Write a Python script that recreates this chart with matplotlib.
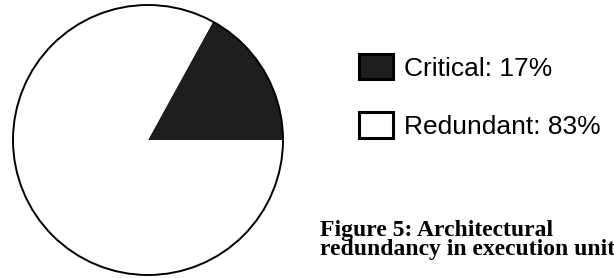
import matplotlib
matplotlib.use("Agg")
import matplotlib.pyplot as plt
from matplotlib.patches import Patch, Circle

labels = ["Critical", "Redundant"]
shares = [17, 83]
colors = ["#1e1e1e", "white"]
caption = "Figure 5: Architectural\nredundancy in execution units"

fig = plt.figure(figsize=(6.14, 2.78), dpi=100)
ax = fig.add_axes([0, 0, 1, 1])

cx, cy, r = 148, 138, 135
wedges, _ = ax.pie(shares, colors=colors, startangle=0, counterclock=True,
                   center=(cx, cy), radius=r, frame=True,
                   wedgeprops=dict(edgecolor="none"))
ax.set_xlim(0, 614)
ax.set_ylim(0, 278)
ax.set_aspect("equal")
ax.axis("off")
ax.add_patch(Circle((cx, cy), r, fill=False, edgecolor="black", lw=1.4))

# legend: squares with black border
handles = [Patch(facecolor=c, edgecolor="black", lw=2.2) for c in colors]
leg_labels = [f"{l}: {s}%" for l, s in zip(labels, shares)]
ax.legend(handles, leg_labels, loc="upper left", bbox_to_anchor=(359, 224),
          bbox_transform=ax.transData, frameon=False,
          prop={"family": "Liberation Sans", "size": 19},
          handlelength=1.28, handleheight=1.1, handletextpad=0.42,
          labelspacing=1.2, borderpad=0, borderaxespad=0)

# caption runs off the right edge, as in the original
fig.text(320 / 614, (278 - 255) / 278, caption, family="Liberation Serif",
         weight="bold", fontsize=17, va="baseline", ha="left",
         linespacing=0.85)

fig.savefig("out.png", dpi=100)
